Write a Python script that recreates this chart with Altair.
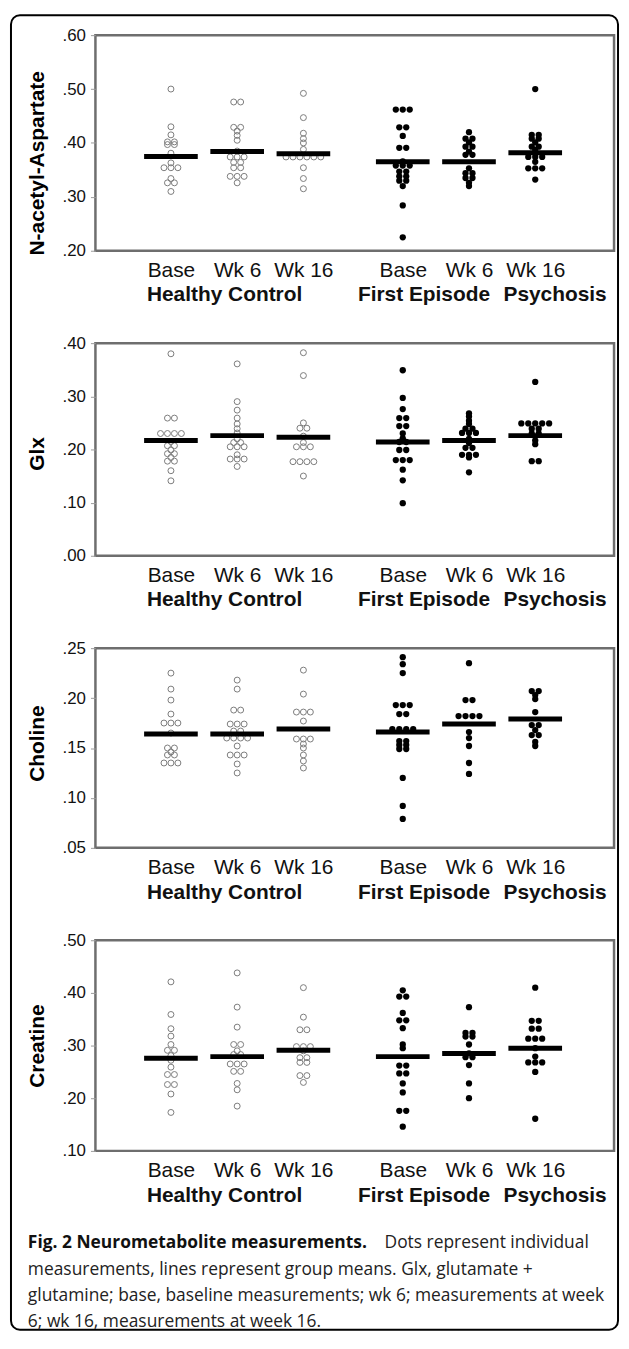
import altair as alt
import pandas as pd
from collections import Counter

# ---------------- data ----------------
GROUPS = ["HC", "FEP"]
TIMEPOINTS = ["Base", "Wk 6", "Wk 16"]
METABOLITES = ["N-acetyl-Aspartate", "Glx", "Choline", "Creatine"]
Y_DOMAINS = [[0.20, 0.60], [0.00, 0.40], [0.05, 0.25], [0.10, 0.50]]
Y_TICKS = [[0.20, 0.30, 0.40, 0.50, 0.60],
           [0.00, 0.10, 0.20, 0.30, 0.40],
           [0.05, 0.10, 0.15, 0.20, 0.25],
           [0.10, 0.20, 0.30, 0.40, 0.50]]

NAA_HC_BASE = [.500, .430, .415, .402, .402, .397, .397, .381, .363, .354, .354, .354, .334, .326, .326, .310]
NAA_HC_WK6 = [.476, .476, .429, .429, .422, .414, .405, .385, .374, .374, .374, .364, .364, .354, .354, .338, .338, .338, .326]
NAA_HC_WK16 = [.492, .447, .418, .408, .400, .388, .374, .374, .374, .374, .374, .374, .354, .334, .315]
NAA_FEP_BASE = [.462, .462, .462, .429, .429, .413, .391, .391, .366, .358, .358, .358, .347, .347, .338, .338, .330, .330, .320, .284, .225]
NAA_FEP_WK6 = [.420, .408, .408, .401, .393, .393, .384, .378, .378, .353, .344, .344, .335, .335, .326, .320]
NAA_FEP_WK16 = [.500, .415, .415, .408, .408, .401, .393, .393, .387, .374, .374, .374, .365, .353, .353, .353, .332]

GLX_HC_BASE = [.380, .259, .259, .230, .230, .230, .230, .215, .207, .207, .199, .192, .192, .185, .178, .178, .160, .141]
GLX_HC_WK6 = [.361, .290, .274, .259, .248, .239, .231, .220, .213, .213, .205, .205, .205, .190, .182, .182, .182, .168]
GLX_HC_WK16 = [.382, .339, .250, .240, .240, .225, .213, .205, .205, .205, .177, .177, .177, .177, .150]
GLX_FEP_BASE = [.349, .297, .276, .259, .259, .244, .244, .230, .221, .214, .214, .199, .199, .180, .180, .180, .162, .142, .099]
GLX_FEP_WK6 = [.268, .262, .254, .248, .239, .239, .231, .231, .231, .220, .212, .203, .203, .190, .190, .190, .185, .157]
GLX_FEP_WK16 = [.327, .249, .249, .249, .249, .249, .239, .239, .230, .230, .217, .210, .178, .178]

CHO_HC_BASE = [.225, .209, .198, .184, .175, .175, .175, .165, .150, .150, .146, .143, .143, .135, .135, .135]
CHO_HC_WK6 = [.218, .209, .188, .188, .174, .174, .174, .167, .167, .160, .160, .160, .160, .152, .143, .143, .143, .134, .125]
CHO_HC_WK16 = [.228, .204, .186, .186, .186, .177, .159, .159, .159, .154, .150, .143, .137, .130]
CHO_FEP_BASE = [.241, .234, .225, .193, .193, .193, .184, .184, .169, .169, .169, .169, .157, .157, .153, .153, .149, .149, .120, .092, .079]
CHO_FEP_WK6 = [.235, .198, .198, .182, .182, .182, .182, .166, .160, .152, .135, .124]
CHO_FEP_WK16 = [.207, .207, .203, .199, .186, .173, .173, .168, .163, .163, .156, .152]

CR_HC_BASE = [.421, .359, .332, .318, .302, .291, .291, .281, .272, .259, .245, .245, .226, .226, .208, .173]
CR_HC_WK6 = [.438, .373, .335, .302, .302, .290, .283, .283, .265, .265, .265, .251, .251, .228, .216, .185]
CR_HC_WK16 = [.410, .354, .330, .330, .298, .298, .298, .290, .277, .277, .268, .268, .243, .243, .230]
CR_FEP_BASE = [.405, .393, .393, .362, .348, .348, .333, .302, .295, .262, .262, .247, .247, .228, .211, .176, .176, .146]
CR_FEP_WK6 = [.373, .324, .324, .317, .317, .302, .285, .278, .278, .263, .228, .200]
CR_FEP_WK16 = [.410, .347, .347, .332, .332, .313, .313, .313, .295, .279, .268, .268, .268, .250, .161]

# group means (horizontal bars), order: HC Base, Wk6, Wk16, FEP Base, Wk6, Wk16
NAA_MEANS = [.375, .384, .380, .365, .365, .382]
GLX_MEANS = [.217, .226, .223, .214, .217, .226]
CHO_MEANS = [.164, .164, .169, .166, .174, .179]
CR_MEANS = [.276, .279, .291, .279, .285, .295]

GROUP_LABELS = ["Healthy Control", "First Episode", "Psychosis"]

CAPTION_BOLD = "Fig. 2 Neurometabolite measurements."
CAPTION_LINE1 = "Dots represent individual"
CAPTION_LINES = ["measurements, lines represent group means. Glx, glutamate +",
                 "glutamine; base, baseline measurements; wk 6; measurements at week",
                 "6; wk 16, measurements at week 16."]

SERIES = {
    "N-acetyl-Aspartate": [[NAA_HC_BASE, NAA_HC_WK6, NAA_HC_WK16], [NAA_FEP_BASE, NAA_FEP_WK6, NAA_FEP_WK16]],
    "Glx": [[GLX_HC_BASE, GLX_HC_WK6, GLX_HC_WK16], [GLX_FEP_BASE, GLX_FEP_WK6, GLX_FEP_WK16]],
    "Choline": [[CHO_HC_BASE, CHO_HC_WK6, CHO_HC_WK16], [CHO_FEP_BASE, CHO_FEP_WK6, CHO_FEP_WK16]],
    "Creatine": [[CR_HC_BASE, CR_HC_WK6, CR_HC_WK16], [CR_FEP_BASE, CR_FEP_WK6, CR_FEP_WK16]],
}
MEANS = {"N-acetyl-Aspartate": NAA_MEANS, "Glx": GLX_MEANS, "Choline": CHO_MEANS, "Creatine": CR_MEANS}

# ---------------- layout ----------------
W = 522
HEIGHTS = [217, 214, 201, 212]
TITLE_SHIFT = [20, 4, -5, 0]
SPACING = 93
GROUP_GAP = 3.5          # FEP columns start 1.5 steps after HC columns
DODGE = 0.105            # horizontal spread of equal values (in column steps)
X_DOMAIN = [-1.14, 6.69]
GROUP_LABEL_POS = [0.81, 3.82, 5.80]
FONT = "Liberation Sans, Arial, sans-serif"
CAP_FONT = "Open Sans, Noto Sans, sans-serif"
CAP_SIZE = 17.5


def col_pos(g, t):
    return t + GROUP_GAP * g


rows = []
mean_rows = []
for m in METABOLITES:
    for g, grp in enumerate(GROUPS):
        for t, tp in enumerate(TIMEPOINTS):
            vals = SERIES[m][g][t]
            tot = Counter(vals)
            seen = Counter()
            for v in vals:
                k = seen[v]
                seen[v] += 1
                off = (k - (tot[v] - 1) / 2) * DODGE
                rows.append({"metabolite": m, "group": grp, "time": tp,
                             "x": col_pos(g, t) + off, "value": v})
            mean_rows.append({"metabolite": m, "group": grp, "time": tp,
                              "x": col_pos(g, t), "value": MEANS[m][g * 3 + t]})
df = pd.DataFrame(rows)
mdf = pd.DataFrame(mean_rows)
glab = pd.DataFrame({"label": GROUP_LABELS, "x": GROUP_LABEL_POS})

x_label_expr = ("[" + ",".join("'%s'" % t for t in TIMEPOINTS)
                + "][datum.value < 3 ? datum.value : datum.value - %s]" % GROUP_GAP)
x_values = [col_pos(g, t) for g in range(2) for t in range(3)]

xs = alt.Scale(domain=X_DOMAIN, nice=False, zero=False)


def panel(i):
    m = METABOLITES[i]
    h = HEIGHTS[i]
    ys = alt.Scale(domain=Y_DOMAINS[i], nice=False, zero=False)
    d = df[df.metabolite == m]
    xaxis = alt.Axis(values=x_values, labelExpr=x_label_expr, title=None, ticks=False,
                     tickSize=0, domain=False, grid=False, labelFont=FONT, labelFontSize=21,
                     labelColor="#111", labelBaseline="middle", labelPadding=20,
                     labelAngle=0, labelFlush=False, labelOverlap=False)
    yaxis = alt.Axis(values=Y_TICKS[i], labelExpr="replace(format(datum.value, '.2f'), '0.', '.')",
                     title=m, grid=False, domain=False, tickSize=5, tickColor="#9a9a9a",
                     labelFont=FONT, labelFontSize=17, labelColor="#111", labelPadding=5,
                     labelFlush=False, labelOverlap=False,
                     titleFont=FONT, titleFontSize=21, titleFontWeight="bold", titleColor="#000",
                     titleX=-58, titleY=h / 2 + TITLE_SHIFT[i], titleAlign="center",
                     titleBaseline="middle", titleAngle=270)
    X = alt.X("x:Q", scale=xs, axis=xaxis)
    Y = alt.Y("value:Q", scale=ys, axis=yaxis)
    hc = alt.Chart(d[d.group == "HC"]).mark_point(
        shape="circle", filled=False, size=36, color="#7c7c7c", strokeWidth=1, opacity=1
    ).encode(x=X, y=Y)
    fep = alt.Chart(d[d.group == "FEP"]).mark_circle(size=40, color="#000", opacity=1).encode(x=X, y=Y)
    means = alt.Chart(mdf[mdf.metabolite == m]).mark_tick(
        orient="horizontal", size=54, thickness=5, color="#000", opacity=1
    ).encode(x=X, y=Y)
    gl = alt.Chart(glab).mark_text(font=FONT, fontSize=21, fontWeight="bold", color="#111",
                                   baseline="middle", align="center").encode(
        x=X, y=alt.value(h + 45), text="label:N")
    layers = [hc, fep, means, gl]
    if i == 0:
        border = alt.Chart(pd.DataFrame({"k": [0]})).mark_rect(
            fillOpacity=0, stroke="#000", strokeWidth=2, cornerRadius=9
        ).encode(x=alt.value(-85), x2=alt.value(W + 4), y=alt.value(-20), y2=alt.value(1303))
        layers = [border] + layers
    return alt.layer(*layers).properties(width=W, height=h)


cap_lines = pd.DataFrame({"text": CAPTION_LINES, "line": list(range(1, len(CAPTION_LINES) + 1))})
cap_ys = alt.Scale(domain=[0, 3], range=[0, 3 * 26.5])
CY = alt.Y("line:Q", scale=cap_ys, axis=None)
cap_bold = alt.Chart(pd.DataFrame({"text": [CAPTION_BOLD], "line": [0]})).mark_text(
    font=CAP_FONT, fontSize=CAP_SIZE, fontWeight="bold", color="#111", align="left", baseline="middle"
).encode(x=alt.value(-68), y=CY, text="text:N")
cap_first = alt.Chart(pd.DataFrame({"text": [CAPTION_LINE1], "line": [0]})).mark_text(
    font=CAP_FONT, fontSize=CAP_SIZE, color="#222", align="left", baseline="middle"
).encode(x=alt.value(291), y=CY, text="text:N")
cap_rest = alt.Chart(cap_lines).mark_text(
    font=CAP_FONT, fontSize=CAP_SIZE, color="#222", align="left", baseline="middle"
).encode(x=alt.value(-68), y=CY, text="text:N")
caption = alt.layer(cap_bold, cap_first, cap_rest).properties(
    width=W, height=80, view=alt.ViewConfig(stroke="transparent"))

chart = alt.vconcat(*[panel(i) for i in range(4)], caption, spacing=SPACING, bounds="flush",
                    padding=0, background="white").configure_view(
    stroke="#6e6e6e", strokeWidth=2.5)

chart.save("out.html", embed_options={"renderer": "svg", "actions": False})
